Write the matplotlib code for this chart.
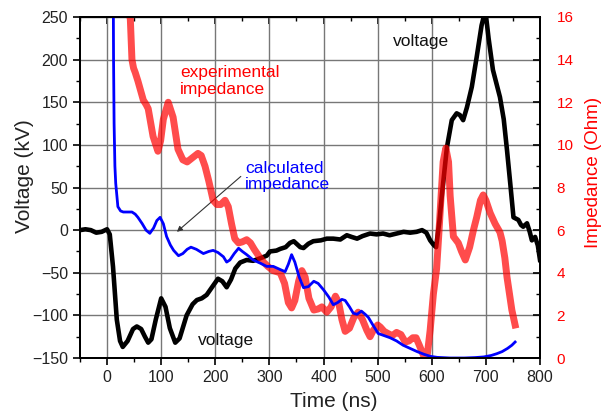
import matplotlib
matplotlib.use("Agg")
import matplotlib.pyplot as plt
from matplotlib.ticker import MultipleLocator

plt.rcParams['font.family'] = ['Liberation Sans', 'DejaVu Sans']

# voltage (kV) vs time (ns)
t_volt = [-50, -40, -30, -20, -10, 0, 5, 11, 18, 24, 29, 38, 48, 55, 63, 70, 76, 82, 90, 100,
          108, 116, 126, 134, 147, 158, 166, 175, 184, 195, 205, 213, 221, 229, 237, 246, 258,
          270, 283, 295, 301, 313, 320, 330, 338, 345, 357, 363, 372, 381, 395, 406, 418, 431,
          443, 452, 462, 472, 486, 498, 510, 522, 535, 548, 560, 572, 582, 590, 597, 603, 608,
          614, 619, 628, 637, 646, 652, 658, 665, 674, 683, 692, 699, 705, 713, 726, 733, 739,
          745, 751, 760, 765, 769, 776, 781, 785, 791, 796, 800]
voltage = [0, 1, 0, -3, -2, 1, -5, -43, -105, -130, -137, -130, -116, -113, -116, -125, -132,
           -128, -105, -80, -90, -115, -132, -127, -100, -87, -82, -80, -76, -66, -57, -60, -67,
           -58, -45, -38, -35, -36, -33, -30, -25, -24, -22, -20, -15, -13, -20, -21, -16, -13,
           -12, -10, -10, -11, -6, -8, -10, -7, -4, -5, -4, -6, -4, -2, -3, -2, 0, -3, -12, -17,
           -20, 10, 43, 97, 129, 137, 135, 129, 144, 168, 203, 240, 258, 225, 188, 156, 130, 94,
           55, 15, 12, 6, 4, 8, -2, -12, -8, -18, -35]

# experimental impedance (Ohm)
t_exp = [38, 43, 46, 49, 52, 57, 67, 72, 76, 85, 94, 99, 104, 113, 122, 131, 140, 148, 158,
         168, 174, 181, 188, 196, 203, 210, 218, 224, 230, 236, 243, 250, 258, 265, 272, 280,
         289, 297, 307, 320, 328, 335, 341, 347, 354, 360, 366, 373, 382, 390, 397, 406, 414,
         422, 428, 434, 440, 448, 456, 464, 472, 480, 486, 492, 500, 505, 512, 519, 527, 535,
         543, 551, 558, 565, 571, 577, 585, 591, 597, 603, 609, 613, 617, 621, 626, 631, 634,
         640, 649, 655, 662, 670, 677, 683, 690, 695, 700, 708, 717, 726, 730, 735, 739, 748, 754]
z_exp = [16.5, 15.9, 14.0, 13.6, 13.4, 13.0, 12.1, 11.9, 11.7, 10.4, 9.7, 10.2, 11.2, 12.0,
         11.3, 9.8, 9.3, 9.2, 9.4, 9.6, 9.5, 9.0, 8.3, 7.4, 7.2, 7.2, 7.4, 7.1, 6.3, 5.6, 5.4,
         5.45, 5.55, 5.4, 5.1, 4.8, 4.5, 4.3, 4.1, 4.0, 3.5, 2.6, 2.35, 2.7, 3.6, 4.1, 3.8, 2.8,
         2.25, 2.3, 2.4, 2.15, 2.4, 2.9, 2.6, 1.8, 1.25, 1.4, 1.9, 2.15, 1.8, 1.3, 1.0, 1.3,
         1.55, 1.45, 1.25, 1.15, 1.05, 1.2, 1.1, 0.75, 0.8, 0.95, 0.95, 0.6, 0.1, 0.0, 1.3, 3.0,
         4.2, 5.8, 7.5, 9.2, 9.85, 9.2, 7.6, 5.7, 5.4, 5.0, 4.6, 5.2, 6.0, 6.6, 7.4, 7.65, 7.4,
         6.8, 6.3, 5.9, 5.5, 4.7, 3.8, 2.25, 1.55]

# calculated impedance (Ohm)
t_calc = [11.5, 12, 13, 14.5, 16, 20, 25, 30, 40, 46, 52, 57, 65, 72, 79, 86, 92, 98, 104, 110,
          117, 123, 132, 140, 148, 155, 165, 178, 188, 196, 205, 215, 221, 227, 235, 243, 250,
          258, 270, 283, 295, 307, 320, 329, 335, 341, 347, 355, 363, 372, 382, 390, 400, 410,
          418, 426, 434, 440, 448, 455, 462, 470, 477, 483, 490, 501, 512, 523, 535, 547, 560,
          573, 585, 597, 610, 634, 660, 680, 696, 710, 720, 730, 740, 748, 754]
z_calc = [17, 14, 11, 9, 8.2, 7.1, 6.9, 6.85, 6.85, 6.85, 6.75, 6.6, 6.3, 6.0, 5.85, 6.1, 6.45,
          6.6, 6.3, 5.7, 5.3, 5.05, 4.8, 4.9, 5.1, 5.2, 5.1, 4.9, 5.0, 5.05, 4.95, 4.75, 4.5, 4.6,
          4.9, 5.15, 5.0, 4.85, 4.6, 4.45, 4.3, 4.3, 4.15, 4.05, 4.4, 4.85, 4.5, 3.8, 3.3, 3.35,
          3.6, 3.5, 3.2, 2.85, 2.5, 2.6, 2.75, 2.7, 2.4, 2.1, 2.05, 2.2, 2.05, 1.9, 1.6, 1.15,
          1.05, 0.95, 0.8, 0.6, 0.45, 0.3, 0.18, 0.08, 0.03, 0.0, 0.0, 0.02, 0.05, 0.12, 0.2, 0.3,
          0.45, 0.6, 0.75]

fig = plt.figure(figsize=(6.13, 4.18), dpi=100)
ax = fig.add_axes([80/613, 1 - 358/418, 460/613, 341/418])
ax2 = ax.twinx()

ax.plot(t_volt, voltage, color='black', lw=3.3, solid_joinstyle='round')
ax2.plot(t_exp, z_exp, color='#ff0000', lw=5, alpha=0.7, solid_joinstyle='round')
ax2.plot(t_calc, z_calc, color='#0000ff', lw=2.0)

ax.set_xlim(-50, 800)
ax.set_ylim(-150, 250)
ax2.set_ylim(0, 16)

ax.xaxis.set_major_locator(MultipleLocator(100))
ax.xaxis.set_minor_locator(MultipleLocator(50))
ax.yaxis.set_major_locator(MultipleLocator(50))
ax.yaxis.set_minor_locator(MultipleLocator(25))
ax2.yaxis.set_major_locator(MultipleLocator(2))
ax2.yaxis.set_minor_locator(MultipleLocator(1))

ax.grid(True, which='major', color='#777777', lw=1.0)
ax.set_axisbelow(True)

ax.tick_params(which='both', direction='out', labelsize=11.5, colors='black', labelcolor='#222222')
ax.tick_params(which='major', length=5, width=1.2)
ax.tick_params(which='minor', length=3, width=1.0)
ax2.tick_params(which='both', direction='in', labelsize=11, colors='black', labelcolor='red', pad=12)
ax2.tick_params(which='major', length=5, width=1.2)
ax2.tick_params(which='minor', length=3, width=1.0)

top = ax.secondary_xaxis('top')
top.xaxis.set_major_locator(MultipleLocator(100))
top.xaxis.set_minor_locator(MultipleLocator(50))
top.tick_params(which='both', direction='in', labeltop=False)
top.tick_params(which='major', length=5, width=1.2)
top.tick_params(which='minor', length=3, width=1.0)

for a in (ax, ax2):
    for s in a.spines.values():
        s.set_linewidth(1.4)
        s.set_color('black')

ax.set_xlabel('Time (ns)', fontsize=15, color='#222222')
ax.xaxis.set_label_coords(0.552, -0.10)
ax.set_ylabel('Voltage (kV)', fontsize=15, color='#222222')
ax.yaxis.set_label_coords(-0.10, 0.534)
ax2.set_ylabel('Impedance (Ohm)', fontsize=13.5, color='red')
ax2.yaxis.set_label_coords(1.098, 0.545)

ax.text(135, 175, 'experimental\nimpedance', color='red', fontsize=12.5,
        ha='left', va='center', linespacing=1.1)
ax.annotate('calculated\nimpedance', xy=(129, -2), xytext=(255, 63), color='#0000ff',
            fontsize=12.5, ha='left', va='center', linespacing=1.1,
            arrowprops=dict(arrowstyle='-|>', color='#333333', lw=0.8, mutation_scale=8,
                            shrinkA=0, shrinkB=0, relpos=(-0.05, 0.5)))
ax.text(529, 221, 'voltage', color='#111111', fontsize=12.5, ha='left', va='center')
ax.text(168, -129, 'voltage', color='#111111', fontsize=12.5, ha='left', va='center')

fig.savefig('out.png', dpi=100)
